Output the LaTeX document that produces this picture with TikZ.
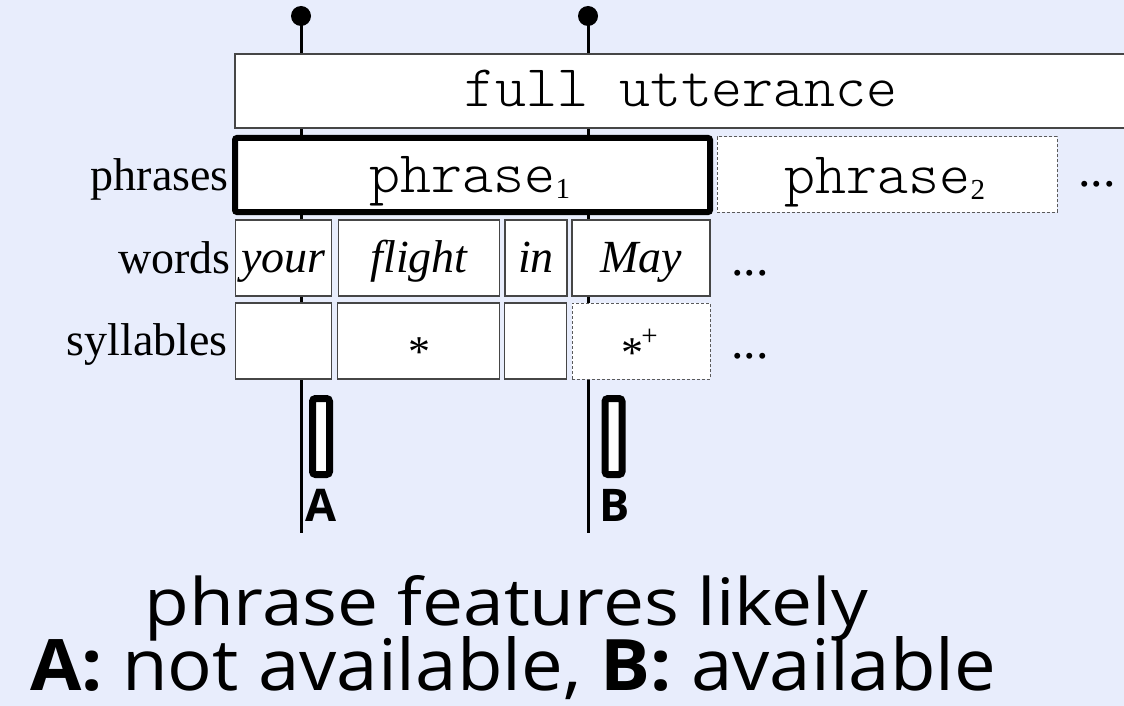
\documentclass[tikz,border=0pt]{standalone}
\usepackage{fontspec}
\usepackage{graphicx}
\newfontfamily\sansf{Open Sans}
\newfontfamily\serf{Liberation Serif}
\definecolor{bg}{RGB}{232,237,252}
\definecolor{edge}{RGB}{70,70,70}
\definecolor{dedge}{RGB}{90,90,90}
\tikzset{
  x=1pt, y=-1pt,
  wbox/.style={draw=edge, line width=1.4pt, fill=white, inner sep=0pt, minimum height=76pt,
    text height=40pt, text depth=11pt, font=\fontsize{46}{50}\selectfont\serf\itshape},
  sbox/.style={draw=edge, line width=1.4pt, fill=white, inner sep=0pt, minimum height=76pt},
  dsbox/.style={draw=dedge, line width=1pt, dash pattern=on 3pt off 2pt, fill=white, inner sep=0pt, minimum height=76pt},
  ttfont/.style={font=\fontsize{59}{62}\selectfont\fontseries{l}\ttfamily},
  lab/.style={anchor=base east, inner sep=0pt, font=\fontsize{46}{50}\selectfont\serf},
  dotsl/.style={anchor=base, inner sep=0pt, font=\fontsize{50}{50}\selectfont\serf},
  dotsty/.style={circle, fill=black, inner sep=0pt, minimum size=20pt},
  vline/.style={line width=3pt},
  bar/.style={draw=black, fill=white, line width=7pt, rounded corners=3pt, inner sep=0pt, minimum width=17pt, minimum height=76pt},
  ablab/.style={anchor=base west, inner sep=0pt, font=\fontsize{45}{50}\selectfont\sansf\bfseries},
  startxt/.style={anchor=base, inner sep=0pt, font=\fontsize{44}{46}\selectfont\serf},
}
\newcommand{\subone}[1]{\raisebox{-6pt}{\fontsize{29}{30}\selectfont\serf #1}}
\begin{document}
\begin{tikzpicture}
\fill[bg] (0,0) rectangle (1124,706);
\useasboundingbox (0,0) rectangle (1124,706);
\clip (0,0) rectangle (1124,706);
% dots and vertical lines
\node[dotsty] (d1) at (301,16) {};
\node[dotsty] (d2) at (588,16) {};
\coordinate (e1) at (301,533);
\coordinate (e2) at (588,533);
\draw[vline] (d1.center) -- (e1);
\draw[vline] (d2.center) -- (e2);
% full utterance
\node[draw=edge, line width=1.4pt, fill=white, inner sep=0pt, minimum width=905pt, minimum height=74pt] (full) at (687.5,91) {};
\node[ttfont, anchor=base, inner sep=0pt] (fulltxt) at (681,107) {full utterance};
% phrases
\node[lab] (lphr) at (229,190) {phrases};
\node[draw=black, line width=6pt, fill=white, rounded corners=2pt, inner sep=0pt, minimum width=475pt, minimum height=74pt] (ph1) at (472.5,175) {};
\node[ttfont, anchor=base, inner sep=0pt] (ph1txt) at (470,192) {phrase\subone{1}};
\node[draw=dedge, line width=1pt, dash pattern=on 3pt off 2pt, fill=white, inner sep=0pt, minimum width=340pt, minimum height=75pt] (ph2) at (887,174.5) {};
\node[ttfont, anchor=base, inner sep=0pt] (ph2txt) at (885,193) {phrase\subone{2}};
\node[dotsl] (phdots) at (1097,186) {...};
% words
\node[lab] (lw) at (231,273) {words};
\node[wbox, minimum width=96pt] (w1) at (283.5,258) {your};
\node[wbox, minimum width=161pt] (w2) at (419,258) {flight};
\node[wbox, minimum width=62pt] (w3) at (536,258) {in};
\node[wbox, minimum width=138pt] (w4) at (641,258) {May};
\node[dotsl] (wdots) at (750,275) {...};
% syllables
\node[lab] (ls) at (228,355) {syllables};
\node[sbox, minimum width=96pt] (s1) at (283.5,341) {};
\node[sbox, minimum width=162pt] (s2) at (418.5,341) {};
\node[sbox, minimum width=62pt] (s3) at (535.5,341) {};
\node[dsbox, minimum width=138pt] (s4) at (641,341) {};
\node[startxt] (s2star) at (419,366) {*};
\node[startxt] (s4star) at (632.5,367) {*};
\node[anchor=base, inner sep=0pt, font=\fontsize{29}{30}\selectfont\serf] (s4plus) at (649.5,345) {+};
\node[dotsl] (sdots) at (750,358) {...};
% bars
\node[bar] (ba) at (321,436.5) {};
\node[bar] (bb) at (613.5,436.5) {};
\node[ablab] (la) at (305,521) {A};
\node[ablab] (lb) at (599,521) {B};
% bottom text
\node[anchor=base west, inner sep=0pt, font=\sansf] (t1) at (144,625)
  {\resizebox{724pt}{50pt}{phrase features likely}};
\node[anchor=base west, inner sep=0pt, font=\sansf] (t2) at (30,690)
  {\resizebox{966pt}{54pt}{\textbf{A:} not available, \textbf{B:} available}};
\end{tikzpicture}
\end{document}
